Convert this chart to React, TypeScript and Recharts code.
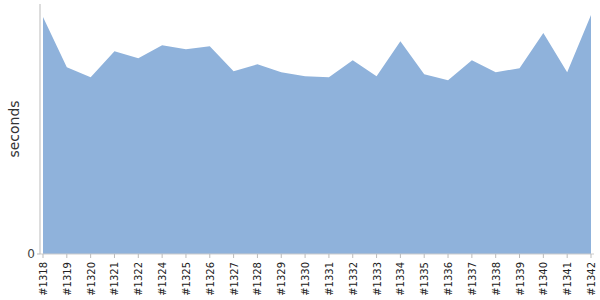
import { AreaChart, Area, XAxis, YAxis } from 'recharts';

// build numbers on the x axis (#1323 is missing in the source)
const builds = [
  '#1318', '#1319', '#1320', '#1321', '#1322', '#1324', '#1325', '#1326',
  '#1327', '#1328', '#1329', '#1330', '#1331', '#1332', '#1333', '#1334',
  '#1335', '#1336', '#1337', '#1338', '#1339', '#1340', '#1341', '#1342',
];

// duration per build
const durations = [
  236, 186, 176, 202, 195, 208, 204, 207,
  182, 189, 181, 177, 176, 193, 177, 212,
  179, 173, 193, 181, 185, 220, 181, 238,
];

const yTicks = [0];

const data = builds.map((b, i) => ({ build: b, seconds: durations[i] }));

const font = '"DejaVu Sans", Verdana, sans-serif';

function BuildTick(props: any) {
  const { x, y, payload } = props;
  return (
    <text
      x={x}
      y={y}
      transform={`rotate(-90, ${x}, ${y})`}
      dy={4}
      textAnchor="end"
      fill="#222"
      fontSize={10}
      fontFamily={font}
    >
      {payload.value}
    </text>
  );
}

export default function App() {
  return (
    <div style={{ position: 'absolute', left: 0, top: 0, width: 600, height: 300, background: '#fff' }}>
      <AreaChart width={600} height={300} data={data} margin={{ top: 4, right: 6, bottom: 0, left: 0 }}>
        <XAxis
          dataKey="build"
          interval={0}
          padding={{ left: 3, right: 3 }}
          height={46}
          tickSize={4}
          tickMargin={4}
          axisLine={{ stroke: '#ccc' }}
          tickLine={{ stroke: '#bbb' }}
          tick={<BuildTick />}
        />
        <YAxis
          domain={[0, 249]}
          ticks={yTicks}
          width={40}
          tickSize={3}
          axisLine={{ stroke: '#bbb' }}
          tickLine={{ stroke: '#bbb' }}
          tick={{ fill: '#444', fontSize: 12, fontFamily: font }}
          label={{
            value: 'seconds',
            angle: -90,
            position: 'insideLeft',
            offset: 14,
            style: { fill: '#333', fontSize: 14, fontFamily: font, textAnchor: 'middle' },
          }}
        />
        <Area
          type="linear"
          dataKey="seconds"
          stroke="none"
          fill="#8fb2db"
          fillOpacity={1}
          isAnimationActive={false}
        />
      </AreaChart>
    </div>
  );
}
